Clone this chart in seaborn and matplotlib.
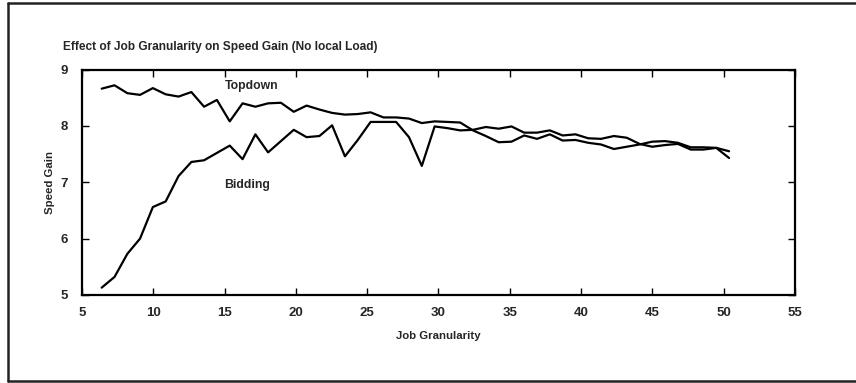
import matplotlib
matplotlib.use("Agg")
import matplotlib.pyplot as plt
import matplotlib.lines as mlines
import pandas as pd
import seaborn as sns

# Job granularity values at which both schedulers were measured
granularity = [
    6.38, 7.28, 8.18, 9.07, 9.97, 10.87, 11.77, 12.67, 13.56, 14.46,
    15.36, 16.26, 17.16, 18.05, 18.95, 19.85, 20.75, 21.65, 22.54, 23.44,
    24.34, 25.24, 26.14, 27.03, 27.93, 28.83, 29.73, 30.63, 31.52, 32.42,
    33.32, 34.22, 35.12, 36.01, 36.91, 37.81, 38.71, 39.61, 40.50, 41.40,
    42.30, 43.20, 44.10, 44.99, 45.89, 46.79, 47.69, 48.59, 49.48, 50.38,
]

# Speed gain of the top-down scheduler
topdown = [
    8.66, 8.72, 8.58, 8.55, 8.67, 8.56, 8.52, 8.60, 8.34, 8.46,
    8.08, 8.40, 8.34, 8.40, 8.41, 8.25, 8.36, 8.29, 8.23, 8.20,
    8.21, 8.24, 8.15, 8.15, 8.13, 8.05, 8.08, 8.07, 8.06, 7.92,
    7.82, 7.71, 7.72, 7.83, 7.77, 7.85, 7.74, 7.75, 7.70, 7.67,
    7.59, 7.63, 7.67, 7.72, 7.73, 7.70, 7.62, 7.62, 7.61, 7.55,
]

# Speed gain of the bidding scheduler
bidding = [
    5.13, 5.32, 5.73, 6.00, 6.56, 6.66, 7.11, 7.36, 7.39, 7.52,
    7.65, 7.41, 7.85, 7.53, 7.73, 7.93, 7.80, 7.82, 8.01, 7.46,
    7.75, 8.07, 8.07, 8.07, 7.80, 7.29, 7.99, 7.96, 7.92, 7.93,
    7.98, 7.95, 7.99, 7.88, 7.88, 7.92, 7.83, 7.85, 7.78, 7.77,
    7.82, 7.79, 7.68, 7.63, 7.66, 7.68, 7.58, 7.58, 7.61, 7.43,
]

series_names = ["Topdown", "Bidding"]
x_ticks = [5, 10, 15, 20, 25, 30, 35, 40, 45, 50, 55]
y_ticks = [5, 6, 7, 8, 9]

df = pd.DataFrame({
    "Job Granularity": granularity * 2,
    "Speed Gain": topdown + bidding,
    "Scheduler": [series_names[0]] * len(topdown) + [series_names[1]] * len(bidding),
})

sns.set_style("ticks")
plt.rcParams["font.family"] = ["Liberation Sans", "DejaVu Sans"]
plt.rcParams["font.weight"] = "bold"

fig = plt.figure(figsize=(8.56, 3.83), dpi=100)
ax = fig.add_axes([0.0958, 0.2298, 0.8329, 0.5887])

sns.lineplot(
    data=df, x="Job Granularity", y="Speed Gain", hue="Scheduler",
    palette={"Topdown": "black", "Bidding": "black"},
    linewidth=1.6, legend=False, ax=ax, estimator=None, sort=False,
)

ax.set_xlim(5, 55)
ax.set_ylim(5, 9)
ax.set_xticks(x_ticks)
ax.set_yticks(y_ticks)
ax.set_xticklabels([str(t) for t in x_ticks], fontsize=9.5, fontweight="bold")
ax.set_yticklabels([str(t) for t in y_ticks], fontsize=9.5, fontweight="bold")
ax.tick_params(axis="both", direction="in", top=True, right=True,
               length=5, width=1.0, color="black")
ax.tick_params(axis="x", pad=9)
ax.tick_params(axis="y", pad=10)
for s in ax.spines.values():
    s.set_visible(True)
    s.set_linewidth(1.6)
    s.set_color("black")

ax.set_xlabel("Job Granularity", fontsize=8.2, fontweight="bold", labelpad=8)
ax.set_ylabel("Speed Gain", fontsize=8.2, fontweight="bold", labelpad=4)

# Series names written next to their curves
ax.text(15.0, 8.70, series_names[0], fontsize=8.8, fontweight="bold",
        ha="left", va="center")
ax.text(15.0, 6.96, series_names[1], fontsize=8.8, fontweight="bold",
        ha="left", va="center")

fig.text(63 / 856, 1 - 47 / 383, "Effect of Job Granularity on Speed Gain (No local Load)",
         fontsize=8.6, fontweight="bold", ha="left", va="center")

# Frame around the figure (left, top and bottom edges)
frame_kw = dict(color="#222222", linewidth=1.8, transform=fig.transFigure)
fig.add_artist(mlines.Line2D([8 / 856, 8 / 856], [2 / 383, 1 - 3 / 383], **frame_kw))
fig.add_artist(mlines.Line2D([8 / 856, 1.0], [1 - 3 / 383, 1 - 3 / 383], **frame_kw))
fig.add_artist(mlines.Line2D([8 / 856, 1.0], [2 / 383, 2 / 383], **frame_kw))

fig.savefig("out.png", dpi=100)
